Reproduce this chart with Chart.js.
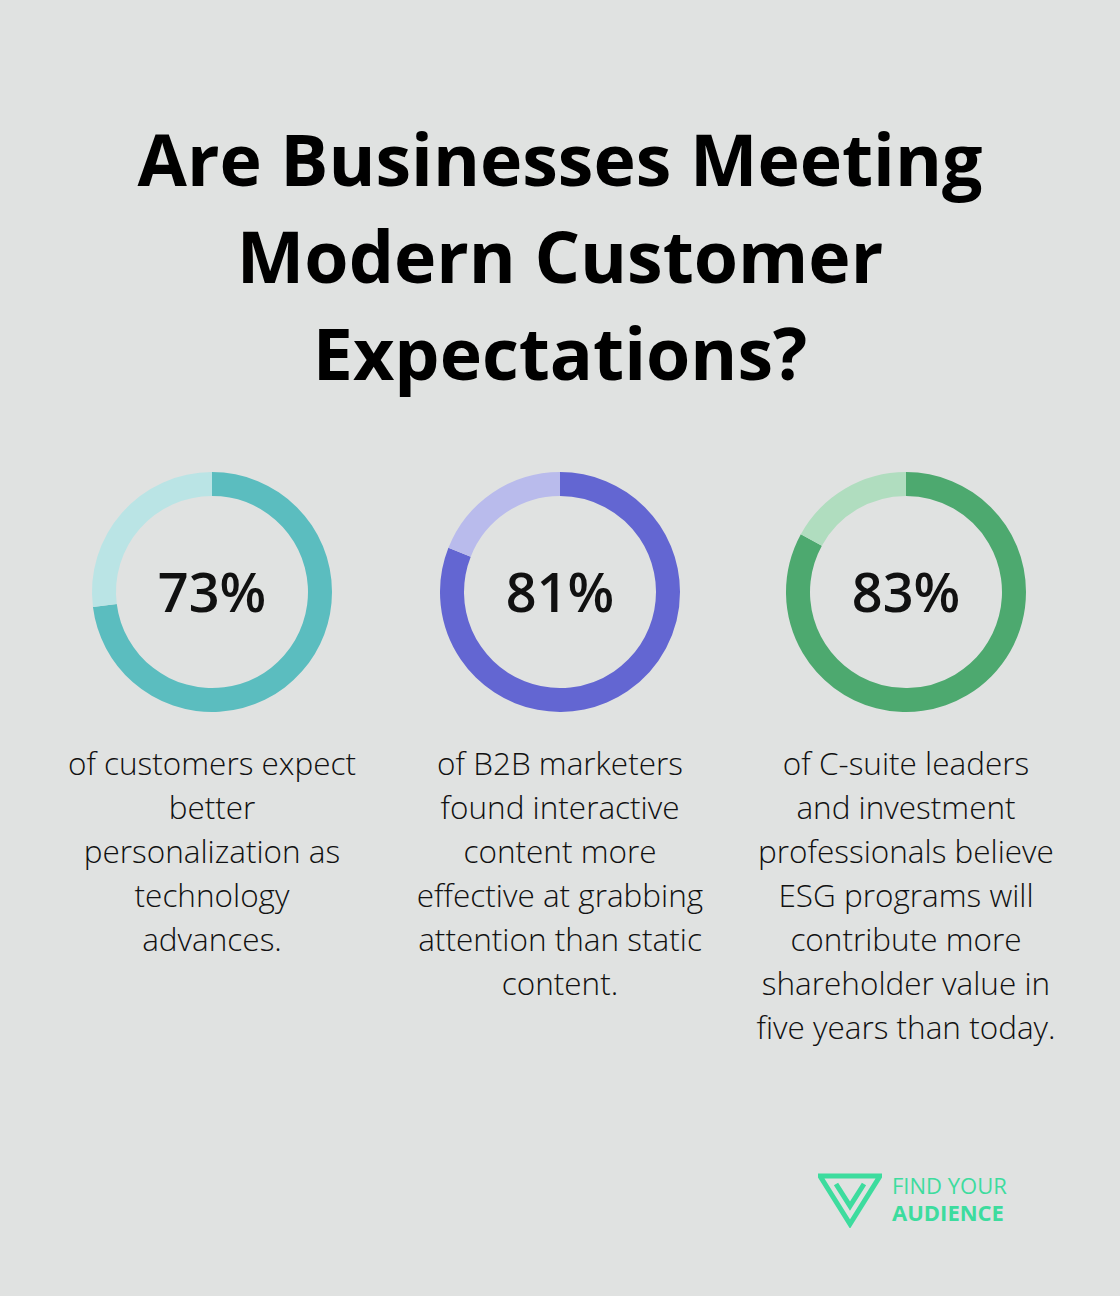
<!DOCTYPE html>
<html><head><meta charset="utf-8">
<script src="https://cdn.jsdelivr.net/npm/chart.js@4/dist/chart.umd.min.js"></script>
<style>
html,body{margin:0;padding:0;background:#e0e2e1;width:1120px;height:1296px;overflow:hidden;font-family:"Open Sans",sans-serif;}
h1{position:absolute;top:110px;left:0;width:1120px;margin:0;text-align:center;font-weight:700;font-size:71.6px;line-height:97px;color:#000;}
.c{position:absolute;top:462px;width:260px;height:260px;}
.pct{position:absolute;top:462px;width:260px;height:260px;line-height:258px;text-align:center;font-weight:600;font-size:54px;color:#111;}
.t{position:absolute;top:741px;width:320px;text-align:center;font-weight:300;font-size:31.5px;line-height:44px;color:#111;}
.logo{position:absolute;left:818px;top:1172px;}
.lt{position:absolute;left:892px;color:#3ddc9e;font-size:22px;line-height:22px;white-space:nowrap;}
</style></head><body>
<h1>Are Businesses Meeting<br>Modern Customer<br>Expectations?</h1>
<div id="wrap"></div>
<svg class="logo" width="64" height="56" viewBox="0 0 64 56">
<path d="M2 4 L62 4 L32 52 Z" fill="none" stroke="#3ddc9e" stroke-width="5"/>
<path d="M18 12 L32 34 L46 12" fill="none" stroke="#3ddc9e" stroke-width="5"/>
</svg>
<div class="lt" style="top:1174px">FIND YOUR</div>
<div class="lt" style="top:1201px;font-weight:700">AUDIENCE</div>
<script>
const values=[73,81,83];
const labels=["73%","81%","83%"];
const texts=["of customers expect<br>better<br>personalization as<br>technology<br>advances.","of B2B marketers<br>found interactive<br>content more<br>effective at grabbing<br>attention than static<br>content.","of C-suite leaders<br>and investment<br>professionals believe<br>ESG programs will<br>contribute more<br>shareholder value in<br>five years than today."];
const mainColors=["#5bbdbf","#6366d2","#4da96f"];
const lightColors=["#bae4e5","#b9bbec","#b0ddbf"];
const centers=[212,560,906];
const wrap=document.getElementById('wrap');
values.forEach((v,i)=>{
  const d=document.createElement('div');d.className='c';d.style.left=(centers[i]-130)+'px';
  const cv=document.createElement('canvas');d.appendChild(cv);wrap.appendChild(d);
  const p=document.createElement('div');p.className='pct';p.style.left=(centers[i]-130)+'px';p.textContent=labels[i];wrap.appendChild(p);
  const t=document.createElement('div');t.className='t';t.style.left=(centers[i]-160)+'px';t.innerHTML=texts[i];wrap.appendChild(t);
  new Chart(cv,{type:'doughnut',data:{datasets:[{data:[v,100-v],backgroundColor:[mainColors[i],lightColors[i]],borderWidth:0}]},
   options:{responsive:true,maintainAspectRatio:false,animation:false,cutout:'80%',radius:120,
   plugins:{legend:{display:false},tooltip:{enabled:false}}}});
});
</script>
</body></html>
